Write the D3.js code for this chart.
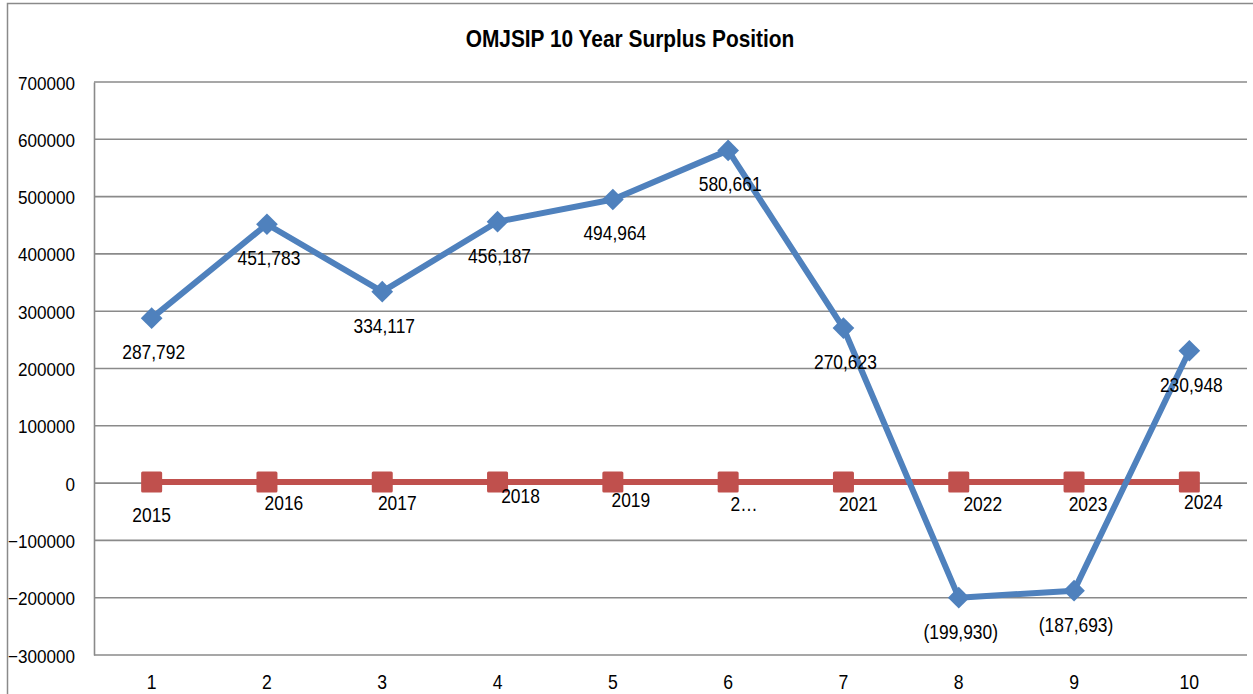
<!DOCTYPE html>
<html>
<head>
<meta charset="utf-8">
<script src="https://cdn.jsdelivr.net/npm/d3@7"></script>
<style>
    body { margin: 0; background: #fff; }
    svg text { font-family: "Liberation Sans", Arial, sans-serif; fill: #000; }
</style>
</head>
<body>
<svg id="chart" width="1253" height="694"></svg>
<script>
// chart data
const categories = [1, 2, 3, 4, 5, 6, 7, 8, 9, 10];
const surplus = [287792, 451783, 334117, 456187, 494964, 580661, 270623, -199930, -187693, 230948];
const years = [2015, 2016, 2017, 2018, 2019, 2020, 2021, 2022, 2023, 2024];
const yearLabels = ['2015', '2016', '2017', '2018', '2019', '2\u2026', '2021', '2022', '2023', '2024'];
const yTicks = [-300000, -200000, -100000, 0, 100000, 200000, 300000, 400000, 500000, 600000, 700000];
const title = 'OMJSIP 10 Year Surplus Position';

// label nudges (the original had hand-placed year labels)
const yearLabelDx = [0, 17, 15, 23, 18, 16, 15, 24, 14, 14];
const yearLabelDy = [40, 28, 28, 21, 25, 29, 29, 29, 29, 27];

const colorBlue = '#4f81bd';
const colorRed = '#c0504d';
const colorGrid = '#8a8a8a';

const width = 1253, height = 694;
const padding = {left: 94, right: 6, top: 82, bottom: 39};
const [w, h] = [width - padding.left - padding.right, height - padding.top - padding.bottom];

const svg = d3.select('#chart');

// outer frame
svg.append('rect')
    .attr('x', 7.5).attr('y', 3.5)
    .attr('width', width + 10).attr('height', height + 10)
    .attr('fill', 'none')
    .attr('stroke', '#8a8a8a')
    .attr('stroke-width', 1.5);

// title, squeezed a bit like the source
svg.append('text')
    .attr('transform', `translate(630,47) scale(0.87,1)`)
    .attr('text-anchor', 'middle')
    .style('font-size', '24px')
    .style('font-weight', 'bold')
    .text(title);

const x = d3.scaleBand()
    .domain(categories)
    .range([0, w]);

const y = d3.scaleLinear()
    .domain([-300000, 700000])
    .range([h, 0]);

const cx = d => x(d) + x.bandwidth() / 2;

const g = svg.append('g')
    .attr('transform', `translate(${padding.left},${padding.top})`);

// gridlines
g.append('g')
    .attr('class', 'grid')
    .selectAll('line')
    .data(yTicks)
    .enter()
    .append('line')
    .attr('x1', 0).attr('x2', w)
    .attr('y1', d => y(d)).attr('y2', d => y(d))
    .attr('stroke', colorGrid)
    .attr('stroke-width', 1.6);

// y axis
const yAxis = g.append('g')
    .call(d3.axisLeft(y).tickValues(yTicks).tickSize(0).tickPadding(0).tickFormat(d3.format('d')));
yAxis.select('.domain')
    .attr('stroke', colorGrid)
    .attr('stroke-width', 1.6);
yAxis.selectAll('.tick text')
    .attr('x', null).attr('dy', null)
    .attr('transform', 'translate(-19,7) scale(0.9,1)')
    .style('font-size', '19px')
    .style('font-family', '"Liberation Sans", Arial, sans-serif')
    .attr('fill', '#000');

// x axis labels at the bottom
const xAxis = g.append('g')
    .attr('transform', `translate(0,${h})`)
    .call(d3.axisBottom(x).tickSize(0).tickPadding(0));
xAxis.select('.domain').remove();
xAxis.selectAll('.tick text')
    .attr('y', null).attr('dy', null)
    .attr('transform', 'translate(0,34) scale(0.88,1)')
    .style('font-size', '20px')
    .style('font-family', '"Liberation Sans", Arial, sans-serif')
    .attr('fill', '#000');

// red series (years)
const redData = categories.map((c, i) => ({c, v: years[i], label: yearLabels[i], dx: yearLabelDx[i], dy: yearLabelDy[i]}));
g.append('path')
    .datum(redData)
    .attr('fill', 'none')
    .attr('stroke', colorRed)
    .attr('stroke-width', 6)
    .attr('d', d3.line().x(d => cx(d.c)).y(d => y(d.v)));

g.selectAll('.sq')
    .data(redData)
    .enter()
    .append('rect')
    .attr('class', 'sq')
    .attr('x', d => cx(d.c) - 10.5)
    .attr('y', d => y(d.v) - 10.5)
    .attr('width', 21).attr('height', 21)
    .attr('rx', 1.5)
    .attr('fill', colorRed);

// blue series (surplus)
const blueData = categories.map((c, i) => ({c, v: surplus[i]}));
g.append('path')
    .datum(blueData)
    .attr('fill', 'none')
    .attr('stroke', colorBlue)
    .attr('stroke-width', 6)
    .attr('stroke-linejoin', 'round')
    .attr('d', d3.line().x(d => cx(d.c)).y(d => y(d.v)));

g.selectAll('.dia')
    .data(blueData)
    .enter()
    .append('path')
    .attr('class', 'dia')
    .attr('transform', d => `translate(${cx(d.c)},${y(d.v)})`)
    .attr('d', d3.symbol().type(d3.symbolDiamond2).size(300))
    .attr('fill', colorBlue);

// labels
const fmt = d3.format(',');
const fmtSurplus = v => v < 0 ? `(${fmt(-v)})` : fmt(v);

g.selectAll('.blabel')
    .data(blueData)
    .enter()
    .append('text')
    .attr('class', 'blabel')
    .attr('transform', d => `translate(${cx(d.c) + 2},${y(d.v) + 41}) scale(0.87,1)`)
    .attr('text-anchor', 'middle')
    .style('font-size', '20px')
    .text(d => fmtSurplus(d.v));

g.selectAll('.rlabel')
    .data(redData)
    .enter()
    .append('text')
    .attr('class', 'rlabel')
    .attr('transform', d => `translate(${cx(d.c) + d.dx},${y(d.v) + d.dy}) scale(0.87,1)`)
    .attr('text-anchor', 'middle')
    .style('font-size', '20px')
    .text(d => d.label);
</script>
</body>
</html>
